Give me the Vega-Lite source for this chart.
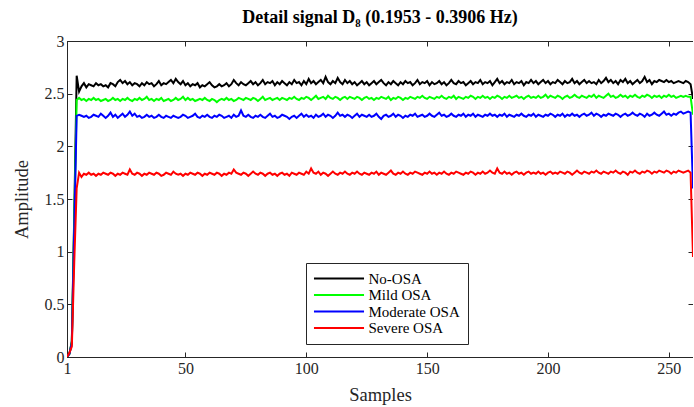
{
  "$schema": "https://vega.github.io/schema/vega-lite/v6.json",
  "autosize": {"type": "none"},
  "padding": {"left": 67, "top": 41, "right": 0, "bottom": 50},
  "width": 626,
  "height": 316,
  "background": "white",
  "title": {"text": "Detail signal D₈ (0.1953 - 0.3906 Hz)", "font": "Liberation Serif", "fontSize": 18, "fontWeight": "bold", "color": "black", "offset": 6, "anchor": "middle"},
  "config": {
    "view": {"stroke": "#262626", "strokeWidth": 1},
    "axis": {"labelFont": "Liberation Serif", "labelFontSize": 16, "labelColor": "#262626", "titleFont": "Liberation Serif", "titleFontSize": 18.5, "titleFontWeight": "normal", "titleColor": "#262626", "domainColor": "#262626", "tickColor": "#262626", "tickSize": -5, "grid": false, "labelPadding": 5, "labelFlush": false}
  },
  "data": {"values": [
    {"x":1,"a":0,"b":0,"c":0,"d":0},
    {"x":2,"a":0.03,"b":0.03,"c":0.03,"d":0.04},
    {"x":3,"a":0.15,"b":0.14,"c":0.13,"d":0.1},
    {"x":4,"a":1.35,"b":1.3,"c":1.22,"d":0.9},
    {"x":5,"a":2.67,"b":2.44,"c":2.29,"d":1.6},
    {"x":6,"a":2.52,"b":2.46,"c":2.3,"d":1.75},
    {"x":7,"a":2.57,"b":2.44,"c":2.29,"d":1.71},
    {"x":8,"a":2.6,"b":2.45,"c":2.28,"d":1.74},
    {"x":9,"a":2.56,"b":2.43,"c":2.29,"d":1.73},
    {"x":10,"a":2.59,"b":2.45,"c":2.27,"d":1.75},
    {"x":11,"a":2.58,"b":2.44,"c":2.28,"d":1.73},
    {"x":12,"a":2.57,"b":2.46,"c":2.3,"d":1.74},
    {"x":13,"a":2.6,"b":2.44,"c":2.29,"d":1.72},
    {"x":14,"a":2.58,"b":2.45,"c":2.28,"d":1.74},
    {"x":15,"a":2.59,"b":2.43,"c":2.31,"d":1.73},
    {"x":16,"a":2.57,"b":2.44,"c":2.29,"d":1.75},
    {"x":17,"a":2.58,"b":2.45,"c":2.27,"d":1.74},
    {"x":18,"a":2.56,"b":2.43,"c":2.29,"d":1.73},
    {"x":19,"a":2.6,"b":2.44,"c":2.32,"d":1.75},
    {"x":20,"a":2.59,"b":2.46,"c":2.28,"d":1.74},
    {"x":21,"a":2.57,"b":2.44,"c":2.3,"d":1.72},
    {"x":22,"a":2.61,"b":2.45,"c":2.27,"d":1.74},
    {"x":23,"a":2.63,"b":2.43,"c":2.29,"d":1.73},
    {"x":24,"a":2.6,"b":2.45,"c":2.31,"d":1.75},
    {"x":25,"a":2.62,"b":2.44,"c":2.28,"d":1.74},
    {"x":26,"a":2.59,"b":2.46,"c":2.3,"d":1.73},
    {"x":27,"a":2.61,"b":2.44,"c":2.33,"d":1.78},
    {"x":28,"a":2.58,"b":2.43,"c":2.29,"d":1.74},
    {"x":29,"a":2.6,"b":2.45,"c":2.31,"d":1.73},
    {"x":30,"a":2.59,"b":2.44,"c":2.28,"d":1.75},
    {"x":31,"a":2.57,"b":2.46,"c":2.29,"d":1.74},
    {"x":32,"a":2.6,"b":2.44,"c":2.27,"d":1.72},
    {"x":33,"a":2.58,"b":2.45,"c":2.28,"d":1.74},
    {"x":34,"a":2.61,"b":2.47,"c":2.3,"d":1.73},
    {"x":35,"a":2.59,"b":2.44,"c":2.28,"d":1.75},
    {"x":36,"a":2.6,"b":2.45,"c":2.29,"d":1.74},
    {"x":37,"a":2.57,"b":2.43,"c":2.27,"d":1.73},
    {"x":38,"a":2.59,"b":2.45,"c":2.28,"d":1.75},
    {"x":39,"a":2.62,"b":2.44,"c":2.3,"d":1.74},
    {"x":40,"a":2.58,"b":2.46,"c":2.28,"d":1.72},
    {"x":41,"a":2.6,"b":2.43,"c":2.27,"d":1.73},
    {"x":42,"a":2.59,"b":2.44,"c":2.29,"d":1.75},
    {"x":43,"a":2.61,"b":2.45,"c":2.28,"d":1.74},
    {"x":44,"a":2.63,"b":2.43,"c":2.27,"d":1.73},
    {"x":45,"a":2.6,"b":2.44,"c":2.29,"d":1.76},
    {"x":46,"a":2.64,"b":2.46,"c":2.28,"d":1.74},
    {"x":47,"a":2.61,"b":2.44,"c":2.27,"d":1.73},
    {"x":48,"a":2.59,"b":2.45,"c":2.28,"d":1.74},
    {"x":49,"a":2.62,"b":2.47,"c":2.3,"d":1.72},
    {"x":50,"a":2.58,"b":2.44,"c":2.29,"d":1.74},
    {"x":51,"a":2.6,"b":2.46,"c":2.27,"d":1.73},
    {"x":52,"a":2.57,"b":2.44,"c":2.28,"d":1.75},
    {"x":53,"a":2.59,"b":2.45,"c":2.29,"d":1.74},
    {"x":54,"a":2.58,"b":2.43,"c":2.31,"d":1.73},
    {"x":55,"a":2.6,"b":2.44,"c":2.28,"d":1.75},
    {"x":56,"a":2.56,"b":2.45,"c":2.27,"d":1.74},
    {"x":57,"a":2.58,"b":2.44,"c":2.29,"d":1.72},
    {"x":58,"a":2.57,"b":2.46,"c":2.28,"d":1.74},
    {"x":59,"a":2.59,"b":2.44,"c":2.3,"d":1.73},
    {"x":60,"a":2.61,"b":2.43,"c":2.28,"d":1.75},
    {"x":61,"a":2.58,"b":2.45,"c":2.27,"d":1.74},
    {"x":62,"a":2.56,"b":2.44,"c":2.29,"d":1.73},
    {"x":63,"a":2.57,"b":2.42,"c":2.28,"d":1.75},
    {"x":64,"a":2.59,"b":2.44,"c":2.3,"d":1.74},
    {"x":65,"a":2.57,"b":2.45,"c":2.29,"d":1.72},
    {"x":66,"a":2.58,"b":2.44,"c":2.27,"d":1.74},
    {"x":67,"a":2.6,"b":2.46,"c":2.28,"d":1.73},
    {"x":68,"a":2.57,"b":2.44,"c":2.29,"d":1.75},
    {"x":69,"a":2.59,"b":2.45,"c":2.27,"d":1.74},
    {"x":70,"a":2.63,"b":2.43,"c":2.3,"d":1.78},
    {"x":71,"a":2.6,"b":2.44,"c":2.28,"d":1.75},
    {"x":72,"a":2.58,"b":2.46,"c":2.29,"d":1.74},
    {"x":73,"a":2.61,"b":2.45,"c":2.34,"d":1.73},
    {"x":74,"a":2.59,"b":2.44,"c":2.29,"d":1.75},
    {"x":75,"a":2.58,"b":2.46,"c":2.28,"d":1.74},
    {"x":76,"a":2.6,"b":2.45,"c":2.3,"d":1.72},
    {"x":77,"a":2.62,"b":2.44,"c":2.28,"d":1.74},
    {"x":78,"a":2.59,"b":2.46,"c":2.27,"d":1.76},
    {"x":79,"a":2.61,"b":2.45,"c":2.29,"d":1.74},
    {"x":80,"a":2.58,"b":2.43,"c":2.28,"d":1.73},
    {"x":81,"a":2.6,"b":2.45,"c":2.3,"d":1.75},
    {"x":82,"a":2.63,"b":2.47,"c":2.28,"d":1.74},
    {"x":83,"a":2.59,"b":2.44,"c":2.27,"d":1.72},
    {"x":84,"a":2.61,"b":2.45,"c":2.29,"d":1.74},
    {"x":85,"a":2.6,"b":2.46,"c":2.31,"d":1.75},
    {"x":86,"a":2.62,"b":2.44,"c":2.28,"d":1.73},
    {"x":87,"a":2.58,"b":2.45,"c":2.29,"d":1.74},
    {"x":88,"a":2.61,"b":2.46,"c":2.27,"d":1.72},
    {"x":89,"a":2.59,"b":2.44,"c":2.28,"d":1.74},
    {"x":90,"a":2.62,"b":2.46,"c":2.3,"d":1.75},
    {"x":91,"a":2.6,"b":2.45,"c":2.29,"d":1.73},
    {"x":92,"a":2.58,"b":2.44,"c":2.28,"d":1.74},
    {"x":93,"a":2.61,"b":2.46,"c":2.26,"d":1.72},
    {"x":94,"a":2.59,"b":2.45,"c":2.28,"d":1.75},
    {"x":95,"a":2.63,"b":2.47,"c":2.29,"d":1.74},
    {"x":96,"a":2.6,"b":2.45,"c":2.27,"d":1.73},
    {"x":97,"a":2.61,"b":2.44,"c":2.29,"d":1.75},
    {"x":98,"a":2.58,"b":2.46,"c":2.31,"d":1.74},
    {"x":99,"a":2.62,"b":2.45,"c":2.28,"d":1.73},
    {"x":100,"a":2.59,"b":2.47,"c":2.3,"d":1.76},
    {"x":101,"a":2.64,"b":2.46,"c":2.28,"d":1.74},
    {"x":102,"a":2.6,"b":2.44,"c":2.29,"d":1.79},
    {"x":103,"a":2.62,"b":2.46,"c":2.27,"d":1.75},
    {"x":104,"a":2.59,"b":2.48,"c":2.3,"d":1.74},
    {"x":105,"a":2.61,"b":2.45,"c":2.28,"d":1.76},
    {"x":106,"a":2.63,"b":2.46,"c":2.29,"d":1.73},
    {"x":107,"a":2.6,"b":2.47,"c":2.31,"d":1.75},
    {"x":108,"a":2.66,"b":2.45,"c":2.28,"d":1.74},
    {"x":109,"a":2.61,"b":2.48,"c":2.3,"d":1.72},
    {"x":110,"a":2.59,"b":2.46,"c":2.29,"d":1.74},
    {"x":111,"a":2.62,"b":2.45,"c":2.27,"d":1.76},
    {"x":112,"a":2.6,"b":2.47,"c":2.29,"d":1.74},
    {"x":113,"a":2.65,"b":2.46,"c":2.32,"d":1.73},
    {"x":114,"a":2.61,"b":2.44,"c":2.29,"d":1.75},
    {"x":115,"a":2.59,"b":2.46,"c":2.3,"d":1.74},
    {"x":116,"a":2.63,"b":2.47,"c":2.28,"d":1.76},
    {"x":117,"a":2.6,"b":2.45,"c":2.3,"d":1.74},
    {"x":118,"a":2.62,"b":2.47,"c":2.29,"d":1.73},
    {"x":119,"a":2.59,"b":2.46,"c":2.27,"d":1.75},
    {"x":120,"a":2.61,"b":2.45,"c":2.29,"d":1.74},
    {"x":121,"a":2.58,"b":2.47,"c":2.31,"d":1.76},
    {"x":122,"a":2.6,"b":2.46,"c":2.28,"d":1.74},
    {"x":123,"a":2.62,"b":2.44,"c":2.3,"d":1.73},
    {"x":124,"a":2.59,"b":2.46,"c":2.29,"d":1.75},
    {"x":125,"a":2.61,"b":2.47,"c":2.28,"d":1.74},
    {"x":126,"a":2.58,"b":2.45,"c":2.3,"d":1.73},
    {"x":127,"a":2.6,"b":2.46,"c":2.28,"d":1.75},
    {"x":128,"a":2.62,"b":2.44,"c":2.29,"d":1.74},
    {"x":129,"a":2.59,"b":2.46,"c":2.31,"d":1.76},
    {"x":130,"a":2.61,"b":2.45,"c":2.28,"d":1.73},
    {"x":131,"a":2.63,"b":2.47,"c":2.26,"d":1.75},
    {"x":132,"a":2.6,"b":2.46,"c":2.29,"d":1.74},
    {"x":133,"a":2.58,"b":2.45,"c":2.3,"d":1.73},
    {"x":134,"a":2.61,"b":2.47,"c":2.28,"d":1.75},
    {"x":135,"a":2.59,"b":2.44,"c":2.29,"d":1.77},
    {"x":136,"a":2.62,"b":2.46,"c":2.31,"d":1.74},
    {"x":137,"a":2.6,"b":2.45,"c":2.28,"d":1.73},
    {"x":138,"a":2.58,"b":2.47,"c":2.3,"d":1.75},
    {"x":139,"a":2.61,"b":2.46,"c":2.29,"d":1.74},
    {"x":140,"a":2.59,"b":2.44,"c":2.27,"d":1.76},
    {"x":141,"a":2.62,"b":2.46,"c":2.29,"d":1.74},
    {"x":142,"a":2.6,"b":2.45,"c":2.28,"d":1.73},
    {"x":143,"a":2.61,"b":2.47,"c":2.3,"d":1.75},
    {"x":144,"a":2.58,"b":2.46,"c":2.29,"d":1.74},
    {"x":145,"a":2.6,"b":2.45,"c":2.31,"d":1.76},
    {"x":146,"a":2.63,"b":2.47,"c":2.28,"d":1.75},
    {"x":147,"a":2.59,"b":2.46,"c":2.29,"d":1.74},
    {"x":148,"a":2.61,"b":2.48,"c":2.3,"d":1.73},
    {"x":149,"a":2.6,"b":2.46,"c":2.28,"d":1.75},
    {"x":150,"a":2.62,"b":2.45,"c":2.29,"d":1.74},
    {"x":151,"a":2.58,"b":2.47,"c":2.31,"d":1.76},
    {"x":152,"a":2.61,"b":2.46,"c":2.29,"d":1.74},
    {"x":153,"a":2.59,"b":2.45,"c":2.28,"d":1.75},
    {"x":154,"a":2.6,"b":2.47,"c":2.3,"d":1.73},
    {"x":155,"a":2.62,"b":2.46,"c":2.32,"d":1.75},
    {"x":156,"a":2.59,"b":2.48,"c":2.29,"d":1.74},
    {"x":157,"a":2.61,"b":2.46,"c":2.3,"d":1.76},
    {"x":158,"a":2.58,"b":2.45,"c":2.28,"d":1.74},
    {"x":159,"a":2.6,"b":2.47,"c":2.29,"d":1.73},
    {"x":160,"a":2.63,"b":2.46,"c":2.31,"d":1.75},
    {"x":161,"a":2.6,"b":2.48,"c":2.29,"d":1.74},
    {"x":162,"a":2.59,"b":2.45,"c":2.28,"d":1.76},
    {"x":163,"a":2.62,"b":2.47,"c":2.3,"d":1.75},
    {"x":164,"a":2.6,"b":2.46,"c":2.29,"d":1.74},
    {"x":165,"a":2.61,"b":2.45,"c":2.31,"d":1.73},
    {"x":166,"a":2.58,"b":2.47,"c":2.28,"d":1.75},
    {"x":167,"a":2.6,"b":2.46,"c":2.3,"d":1.74},
    {"x":168,"a":2.62,"b":2.48,"c":2.29,"d":1.76},
    {"x":169,"a":2.59,"b":2.47,"c":2.31,"d":1.75},
    {"x":170,"a":2.61,"b":2.45,"c":2.28,"d":1.73},
    {"x":171,"a":2.6,"b":2.47,"c":2.3,"d":1.75},
    {"x":172,"a":2.63,"b":2.46,"c":2.29,"d":1.74},
    {"x":173,"a":2.59,"b":2.48,"c":2.28,"d":1.76},
    {"x":174,"a":2.61,"b":2.46,"c":2.3,"d":1.74},
    {"x":175,"a":2.6,"b":2.47,"c":2.29,"d":1.75},
    {"x":176,"a":2.62,"b":2.45,"c":2.31,"d":1.77},
    {"x":177,"a":2.58,"b":2.47,"c":2.29,"d":1.75},
    {"x":178,"a":2.61,"b":2.46,"c":2.3,"d":1.74},
    {"x":179,"a":2.64,"b":2.48,"c":2.28,"d":1.79},
    {"x":180,"a":2.6,"b":2.47,"c":2.3,"d":1.75},
    {"x":181,"a":2.62,"b":2.45,"c":2.29,"d":1.74},
    {"x":182,"a":2.59,"b":2.47,"c":2.31,"d":1.76},
    {"x":183,"a":2.61,"b":2.46,"c":2.28,"d":1.74},
    {"x":184,"a":2.6,"b":2.48,"c":2.3,"d":1.75},
    {"x":185,"a":2.63,"b":2.46,"c":2.29,"d":1.73},
    {"x":186,"a":2.59,"b":2.47,"c":2.28,"d":1.75},
    {"x":187,"a":2.61,"b":2.48,"c":2.3,"d":1.76},
    {"x":188,"a":2.6,"b":2.46,"c":2.29,"d":1.74},
    {"x":189,"a":2.62,"b":2.47,"c":2.31,"d":1.75},
    {"x":190,"a":2.58,"b":2.45,"c":2.29,"d":1.73},
    {"x":191,"a":2.61,"b":2.47,"c":2.28,"d":1.75},
    {"x":192,"a":2.6,"b":2.48,"c":2.3,"d":1.76},
    {"x":193,"a":2.63,"b":2.46,"c":2.29,"d":1.74},
    {"x":194,"a":2.6,"b":2.47,"c":2.31,"d":1.75},
    {"x":195,"a":2.62,"b":2.46,"c":2.28,"d":1.74},
    {"x":196,"a":2.59,"b":2.48,"c":2.3,"d":1.76},
    {"x":197,"a":2.61,"b":2.46,"c":2.29,"d":1.74},
    {"x":198,"a":2.63,"b":2.47,"c":2.28,"d":1.75},
    {"x":199,"a":2.6,"b":2.49,"c":2.3,"d":1.73},
    {"x":200,"a":2.62,"b":2.46,"c":2.29,"d":1.75},
    {"x":201,"a":2.59,"b":2.48,"c":2.31,"d":1.76},
    {"x":202,"a":2.61,"b":2.47,"c":2.3,"d":1.74},
    {"x":203,"a":2.6,"b":2.46,"c":2.28,"d":1.75},
    {"x":204,"a":2.63,"b":2.48,"c":2.3,"d":1.74},
    {"x":205,"a":2.61,"b":2.47,"c":2.29,"d":1.76},
    {"x":206,"a":2.59,"b":2.45,"c":2.31,"d":1.75},
    {"x":207,"a":2.62,"b":2.47,"c":2.28,"d":1.74},
    {"x":208,"a":2.6,"b":2.48,"c":2.3,"d":1.76},
    {"x":209,"a":2.61,"b":2.46,"c":2.29,"d":1.75},
    {"x":210,"a":2.64,"b":2.47,"c":2.31,"d":1.73},
    {"x":211,"a":2.6,"b":2.49,"c":2.29,"d":1.75},
    {"x":212,"a":2.62,"b":2.47,"c":2.3,"d":1.77},
    {"x":213,"a":2.59,"b":2.46,"c":2.28,"d":1.75},
    {"x":214,"a":2.61,"b":2.48,"c":2.3,"d":1.74},
    {"x":215,"a":2.63,"b":2.47,"c":2.31,"d":1.76},
    {"x":216,"a":2.6,"b":2.46,"c":2.29,"d":1.75},
    {"x":217,"a":2.62,"b":2.48,"c":2.3,"d":1.74},
    {"x":218,"a":2.6,"b":2.47,"c":2.32,"d":1.76},
    {"x":219,"a":2.61,"b":2.49,"c":2.29,"d":1.75},
    {"x":220,"a":2.59,"b":2.46,"c":2.31,"d":1.77},
    {"x":221,"a":2.63,"b":2.48,"c":2.3,"d":1.75},
    {"x":222,"a":2.6,"b":2.47,"c":2.28,"d":1.74},
    {"x":223,"a":2.62,"b":2.46,"c":2.3,"d":1.76},
    {"x":224,"a":2.65,"b":2.48,"c":2.29,"d":1.75},
    {"x":225,"a":2.61,"b":2.5,"c":2.31,"d":1.74},
    {"x":226,"a":2.63,"b":2.47,"c":2.3,"d":1.76},
    {"x":227,"a":2.6,"b":2.48,"c":2.29,"d":1.75},
    {"x":228,"a":2.62,"b":2.46,"c":2.31,"d":1.77},
    {"x":229,"a":2.59,"b":2.47,"c":2.3,"d":1.75},
    {"x":230,"a":2.63,"b":2.49,"c":2.28,"d":1.74},
    {"x":231,"a":2.61,"b":2.47,"c":2.3,"d":1.76},
    {"x":232,"a":2.64,"b":2.48,"c":2.31,"d":1.75},
    {"x":233,"a":2.6,"b":2.46,"c":2.29,"d":1.73},
    {"x":234,"a":2.62,"b":2.48,"c":2.3,"d":1.76},
    {"x":235,"a":2.59,"b":2.47,"c":2.32,"d":1.75},
    {"x":236,"a":2.61,"b":2.49,"c":2.3,"d":1.77},
    {"x":237,"a":2.63,"b":2.47,"c":2.29,"d":1.75},
    {"x":238,"a":2.6,"b":2.46,"c":2.31,"d":1.74},
    {"x":239,"a":2.62,"b":2.48,"c":2.3,"d":1.76},
    {"x":240,"a":2.66,"b":2.47,"c":2.28,"d":1.75},
    {"x":241,"a":2.61,"b":2.49,"c":2.31,"d":1.77},
    {"x":242,"a":2.63,"b":2.48,"c":2.29,"d":1.76},
    {"x":243,"a":2.59,"b":2.46,"c":2.3,"d":1.74},
    {"x":244,"a":2.62,"b":2.48,"c":2.32,"d":1.76},
    {"x":245,"a":2.61,"b":2.47,"c":2.3,"d":1.75},
    {"x":246,"a":2.63,"b":2.48,"c":2.29,"d":1.77},
    {"x":247,"a":2.62,"b":2.46,"c":2.31,"d":1.76},
    {"x":248,"a":2.61,"b":2.48,"c":2.33,"d":1.75},
    {"x":249,"a":2.63,"b":2.47,"c":2.3,"d":1.77},
    {"x":250,"a":2.61,"b":2.49,"c":2.31,"d":1.76},
    {"x":251,"a":2.62,"b":2.47,"c":2.29,"d":1.74},
    {"x":252,"a":2.6,"b":2.48,"c":2.31,"d":1.76},
    {"x":253,"a":2.61,"b":2.46,"c":2.3,"d":1.75},
    {"x":254,"a":2.62,"b":2.47,"c":2.32,"d":1.77},
    {"x":255,"a":2.61,"b":2.48,"c":2.33,"d":1.76},
    {"x":256,"a":2.6,"b":2.47,"c":2.31,"d":1.75},
    {"x":257,"a":2.62,"b":2.48,"c":2.32,"d":1.76},
    {"x":258,"a":2.61,"b":2.47,"c":2.33,"d":1.77},
    {"x":259,"a":2.59,"b":2.47,"c":2.32,"d":1.75},
    {"x":260,"a":2.45,"b":2.3,"c":1.6,"d":0.95}
  ]},
  "transform": [
    {"fold": ["a", "b", "c", "d"], "as": ["key", "value"]},
    {"lookup": "key", "from": {"data": {"values": [
      {"key": "a", "series": "No-OSA"},
      {"key": "b", "series": "Mild OSA"},
      {"key": "c", "series": "Moderate OSA"},
      {"key": "d", "series": "Severe OSA"}
    ]}, "key": "key", "fields": ["series"]}}
  ],
  "layer": [
    {
      "mark": {"type": "line", "strokeWidth": 2, "clip": true},
      "encoding": {
        "x": {"field": "x", "type": "quantitative", "scale": {"domain": [1, 260], "nice": false, "zero": false},
              "axis": {"title": "Samples", "values": [1, 50, 100, 150, 200, 250], "labelPadding": 8, "titlePadding": 9}},
        "y": {"field": "value", "type": "quantitative", "scale": {"domain": [0, 3], "nice": false},
              "axis": {"title": "Amplitude", "values": [0, 0.5, 1, 1.5, 2, 2.5, 3], "format": "~g", "labelPadding": 8, "titlePadding": 13}},
        "color": {"field": "series", "type": "nominal",
                  "scale": {"domain": ["No-OSA", "Mild OSA", "Moderate OSA", "Severe OSA"], "range": ["#000000", "#00ff00", "#0000ff", "#ff0000"]},
                  "legend": {"title": null, "orient": "none", "legendX": 239, "legendY": 222, "symbolType": "M-3.85,0H3.85", "symbolSize": 169, "symbolStrokeWidth": 2, "symbolFillColor": "transparent", "symbolOffset": 17.5, "labelOffset": 22, "labelFont": "Liberation Serif", "labelFontSize": 15, "labelColor": "black", "strokeColor": "#262626", "fillColor": "white", "padding": 8, "rowPadding": 0.5}},
        "detail": {"field": "series"}
      }
    },
    {
      "mark": {"type": "line", "opacity": 0},
      "encoding": {
        "x": {"field": "x", "type": "quantitative", "axis": {"orient": "top", "labels": false, "title": null, "values": [1, 50, 100, 150, 200, 250]}},
        "y": {"field": "value", "type": "quantitative", "axis": {"orient": "right", "labels": false, "title": null, "values": [0, 0.5, 1, 1.5, 2, 2.5, 3]}},
        "detail": {"field": "key"}
      }
    }
  ],
  "resolve": {"axis": {"x": "independent", "y": "independent"}}
}
